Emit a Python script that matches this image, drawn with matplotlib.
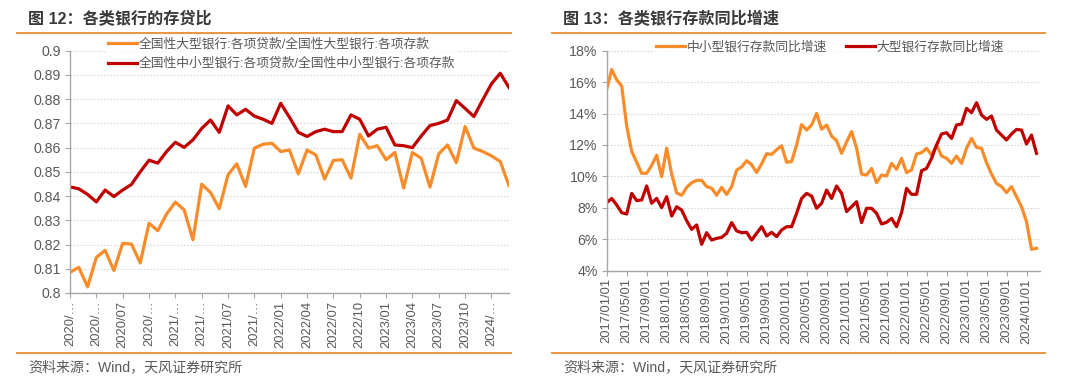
import matplotlib
matplotlib.use("Agg")
import matplotlib.pyplot as plt
from matplotlib.lines import Line2D
import numpy as np

plt.rcParams['font.family'] = ['Liberation Sans', 'Noto Sans CJK SC', 'DejaVu Sans']

# ---------------- data: left chart (loan-to-deposit ratio) ----------------
left_title = "图 12：各类银行的存贷比"
left_names = ["全国性大型银行:各项贷款/全国性大型银行:各项存款",
              "全国性中小型银行:各项贷款/全国性中小型银行:各项存款"]
left_large = [0.8085, 0.8106, 0.8025, 0.8147, 0.8176, 0.8093, 0.8205, 0.8202, 0.8124, 0.8288,
              0.8257, 0.8326, 0.8375, 0.8343, 0.8220, 0.8449, 0.8415, 0.8348, 0.8488, 0.8533,
              0.8440, 0.8598, 0.8614, 0.8618, 0.8584, 0.8590, 0.8492, 0.8590, 0.8570, 0.8470,
              0.8547, 0.8550, 0.8474, 0.8655, 0.8598, 0.8608, 0.8550, 0.8580, 0.8433, 0.8580,
              0.8556, 0.8437, 0.8574, 0.8611, 0.8538, 0.8687, 0.8598, 0.8584, 0.8566, 0.8543,
              0.8443]
left_mid = [0.8438, 0.8430, 0.8407, 0.8376, 0.8425, 0.8398, 0.8425, 0.8448, 0.8500, 0.8548,
            0.8536, 0.8584, 0.8622, 0.8601, 0.8632, 0.8679, 0.8714, 0.8663, 0.8772, 0.8735,
            0.8758, 0.8730, 0.8717, 0.8700, 0.8783, 0.8725, 0.8663, 0.8646, 0.8666, 0.8676,
            0.8666, 0.8666, 0.8735, 0.8717, 0.8648, 0.8676, 0.8684, 0.8611, 0.8608, 0.8600,
            0.8648, 0.8691, 0.8700, 0.8714, 0.8794, 0.8762, 0.8728, 0.8797, 0.8863, 0.8907,
            0.8848]
left_xlabels = ['2020/…', '2020/…', '2020/07', '2020/…', '2021/…', '2021/…', '2021/07', '2021/…',
                '2022/01', '2022/04', '2022/07', '2022/10', '2023/01', '2023/04', '2023/07',
                '2023/10', '2024/…']
left_yticks = [0.80, 0.81, 0.82, 0.83, 0.84, 0.85, 0.86, 0.87, 0.88, 0.89, 0.90]
left_ylabels = ['0.8', '0.81', '0.82', '0.83', '0.84', '0.85', '0.86', '0.87', '0.88', '0.89', '0.9']

# ---------------- data: right chart (deposit growth yoy, %) ----------------
right_title = "图 13：各类银行存款同比增速"
right_names = ["中小型银行存款同比增速", "大型银行存款同比增速"]
right_small = [15.55, 16.80, 16.15, 15.75, 13.20, 11.60, 10.90, 10.20, 10.20, 10.70,
               11.35, 9.98, 11.80, 10.15, 8.95, 8.80, 9.30, 9.60, 9.75, 9.75,
               9.35, 9.25, 8.80, 9.30, 8.85, 9.35, 10.40, 10.60, 11.00, 10.75,
               10.25, 10.80, 11.45, 11.40, 11.70, 11.95, 10.90, 10.95, 12.00, 13.30,
               12.95, 13.27, 14.01, 13.00, 13.27, 12.57, 12.27, 11.47, 12.20, 12.85,
               11.79, 10.15, 10.09, 10.51, 9.60, 10.09, 10.03, 10.83, 10.45, 11.15,
               10.24, 10.41, 11.43, 11.51, 11.79, 11.36, 12.00, 11.30, 11.15, 10.83,
               11.30, 10.83, 11.79, 12.42, 11.85, 11.79, 10.87, 10.15, 9.55, 9.35,
               8.97, 9.35, 8.71, 8.07, 7.12, 5.36, 5.42]
right_large = [8.33, 8.60, 8.18, 7.69, 7.61, 8.92, 8.46, 8.50, 9.39, 8.29,
               8.60, 8.01, 8.71, 7.48, 8.07, 7.86, 7.18, 6.63, 6.91, 5.68,
               6.42, 5.95, 6.06, 6.12, 6.38, 7.06, 6.53, 6.42, 6.44, 5.95,
               6.38, 6.80, 6.21, 6.44, 6.17, 6.59, 6.80, 6.80, 7.65, 8.60,
               8.92, 8.75, 7.97, 8.29, 9.13, 8.60, 9.39, 8.92, 7.76, 8.07,
               8.39, 7.06, 7.97, 7.97, 7.65, 6.97, 7.08, 7.33, 6.80, 7.69,
               9.24, 8.86, 8.86, 10.36, 10.51, 11.15, 12.00, 12.70, 12.78, 12.42,
               13.27, 13.33, 14.33, 14.06, 14.69, 13.91, 13.63, 13.84, 12.95, 12.63,
               12.32, 12.70, 12.99, 12.95, 12.06, 12.63, 11.47]
right_xlabels = ['2017/01/01', '2017/05/01', '2017/09/01', '2018/01/01', '2018/05/01', '2018/09/01',
                 '2019/01/01', '2019/05/01', '2019/09/01', '2020/01/01', '2020/05/01', '2020/09/01',
                 '2021/01/01', '2021/05/01', '2021/09/01', '2022/01/01', '2022/05/01', '2022/09/01',
                 '2023/01/01', '2023/05/01', '2023/09/01', '2024/01/01']
right_yticks = [4, 6, 8, 10, 12, 14, 16, 18]
right_ylabels = ['4%', '6%', '8%', '10%', '12%', '14%', '16%', '18%']

source_text = "资料来源：Wind，天风证券研究所"

# ---------------- styling ----------------
ORANGE = '#F98C2A'
RED = '#C00000'
SEP = '#F08A30'
GRID = '#D9D9D9'
SPINE = '#A6A6A6'
TXT = '#595959'
TITLE = '#3A3A3A'

W, H = 1080, 384
fig = plt.figure(figsize=(W / 100, H / 100), dpi=100)


def fx(px):
    return px / W


def fy(py):
    return 1 - py / H


def style_axes(ax):
    for s in ['top', 'right']:
        ax.spines[s].set_visible(False)
    for s in ['left', 'bottom']:
        ax.spines[s].set_color(SPINE)
        ax.spines[s].set_linewidth(1.0)
    ax.grid(axis='y', color=GRID, linestyle=(0, (1.5, 1.5)), linewidth=0.8)
    ax.grid(axis='x', visible=False)
    ax.set_axisbelow(True)
    ax.tick_params(axis='both', colors=SPINE, labelcolor=TXT, length=3.5, width=0.8,
                   direction='out')
    ax.tick_params(axis='y', labelsize=10.2, pad=3)
    ax.tick_params(axis='x', labelsize=9.3, pad=2)


# ---------------- left chart ----------------
axL = fig.add_axes([fx(70), fy(293), fx(509 - 70), (293 - 50.7) / H])
xl = np.arange(len(left_large))
axL.plot(xl, left_large, color=ORANGE, lw=2.3, label=left_names[0])
axL.plot(xl, left_mid, color=RED, lw=2.3, label=left_names[1])
axL.set_xlim(0, len(left_large) - 1)
axL.set_ylim(left_yticks[0], left_yticks[-1])
axL.set_yticks(left_yticks)
axL.set_yticklabels(left_ylabels)
axL.set_xticks(np.arange(0, 3 * len(left_xlabels), 3))
axL.set_xticklabels(left_xlabels, rotation=90)
style_axes(axL)
legL = axL.legend(loc='upper left', bbox_to_anchor=(fx(105), fy(35.5)), bbox_transform=fig.transFigure,
                  frameon=True, fontsize=9.2, handlelength=2.3, handletextpad=0.12,
                  labelspacing=0.55, borderpad=0.2, borderaxespad=0)
legL.get_frame().set_facecolor('white')
legL.get_frame().set_edgecolor('none')
for t in legL.get_texts():
    t.set_color(TXT)

# ---------------- right chart ----------------
axR = fig.add_axes([fx(606.7), fy(270.7), fx(1040 - 606.7), (270.7 - 50.7) / H])
xr = np.arange(len(right_small))
axR.plot(xr, right_small, color=ORANGE, lw=2.3, label=right_names[0])
axR.plot(xr, right_large, color=RED, lw=2.3, label=right_names[1])
axR.set_xlim(0, len(right_small) - 0.3)
axR.set_ylim(right_yticks[0], right_yticks[-1])
axR.set_yticks(right_yticks)
axR.set_yticklabels(right_ylabels)
axR.set_xticks(np.arange(0, 4 * len(right_xlabels), 4))
axR.set_xticklabels(right_xlabels, rotation=90)
style_axes(axR)
legR = axR.legend(loc='upper left', bbox_to_anchor=(fx(653), fy(38.5)), bbox_transform=fig.transFigure,
                  ncol=2, frameon=True, fontsize=9.2, handlelength=2.3, handletextpad=0.12,
                  columnspacing=1.5, borderpad=0.2, borderaxespad=0)
legR.get_frame().set_facecolor('white')
legR.get_frame().set_edgecolor('none')
for t in legR.get_texts():
    t.set_color(TXT)

# ---------------- titles, separators, sources ----------------
for x0, x1, tx, title in [(17, 511, 28, left_title), (552, 1045, 563, right_title)]:
    fig.text(fx(tx), fy(19.5), title, fontsize=11.6, fontweight='bold', color=TITLE,
             ha='left', va='center')
    fig.add_artist(Line2D([fx(x0), fx(x1)], [fy(33), fy(33)], color=SEP, lw=1.3))
    fig.add_artist(Line2D([fx(x0), fx(x1)], [fy(353), fy(353)], color=SEP, lw=1.3))
    fig.text(fx(tx), fy(367), source_text, fontsize=10.1, color=TXT, ha='left', va='center')

fig.savefig('out.png', dpi=100, facecolor='white')
